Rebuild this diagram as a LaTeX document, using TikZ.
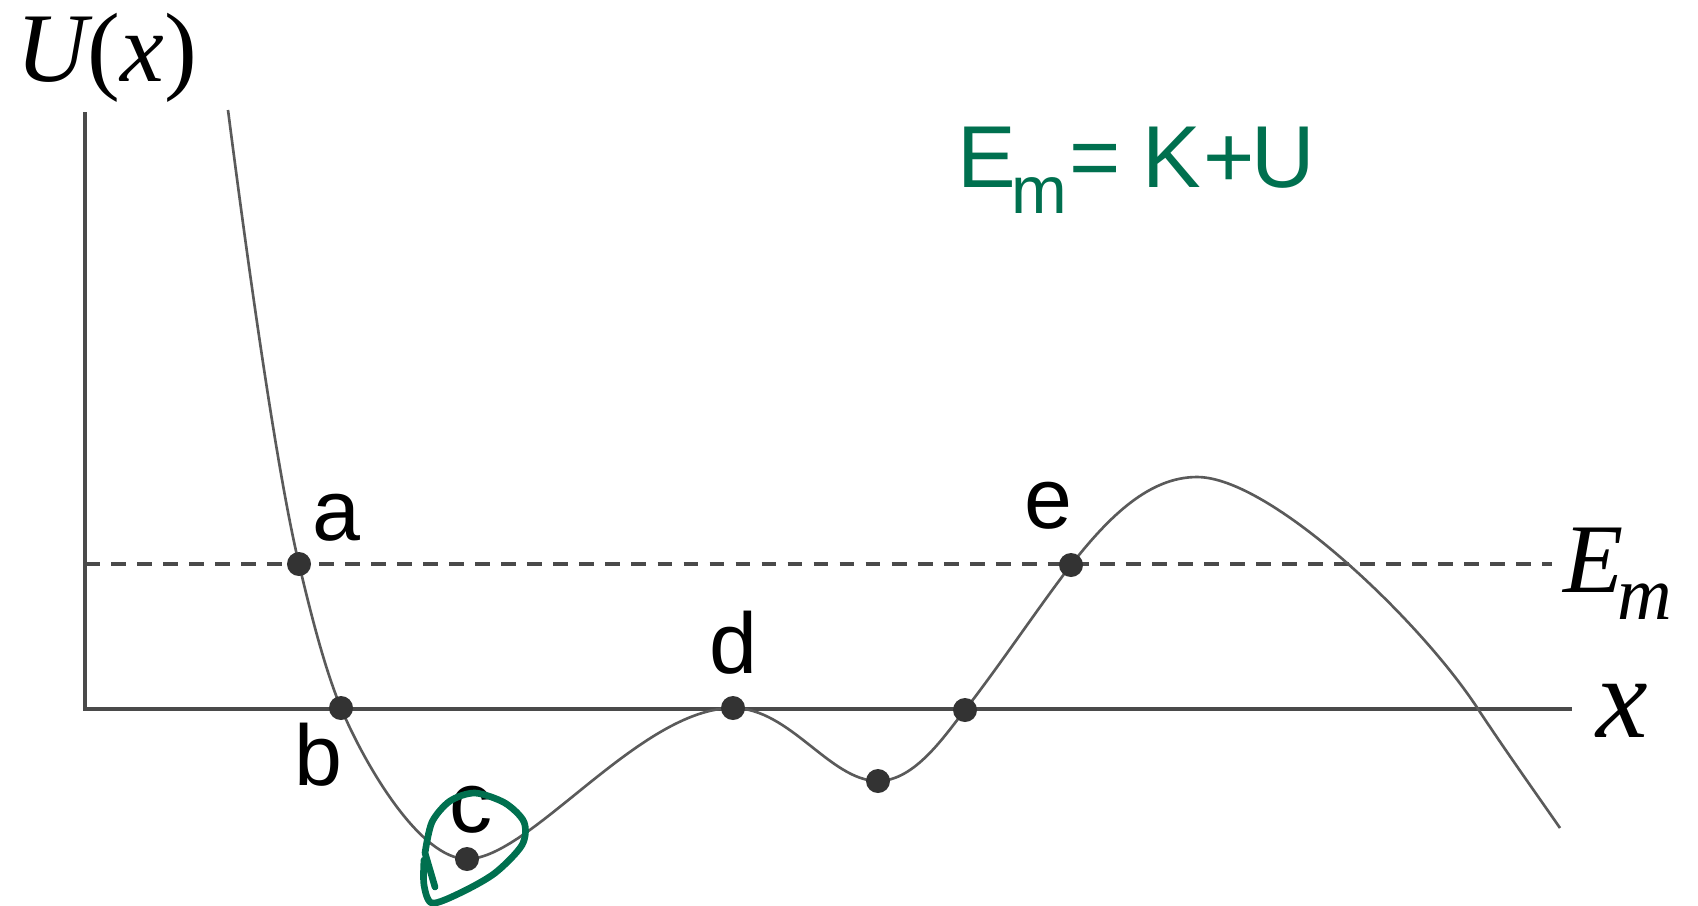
\documentclass[tikz,border=0pt]{standalone}
\usepackage{fontspec}
\setmainfont{Liberation Serif}
\setsansfont{Liberation Sans}
\usetikzlibrary{positioning}
\definecolor{axisgray}{HTML}{4A4A4A}
\definecolor{curvegray}{HTML}{5A5A5A}
\definecolor{dotgray}{HTML}{333333}
\definecolor{inkgreen}{HTML}{00704F}

\begin{document}
\begin{tikzpicture}[
  x=0.01cm, y=-0.01cm,
  axis/.style={draw=axisgray, line width=0.9pt},
  curve/.style={draw=curvegray, line width=0.75pt},
  level/.style={draw=axisgray, line width=1pt, dash pattern=on 4.2pt off 3.2pt},
  dot/.style={circle, fill=dotgray, inner sep=0pt, minimum size=0.24cm},
  lbl/.style={inner sep=0pt, anchor=base, font=\sffamily\fontsize{24.5}{24.5}\selectfont},
  axlbl/.style={inner sep=0pt, font=\fontsize{28}{28}\selectfont\itshape},
  ink/.style={draw=inkgreen, line width=1.9pt, line cap=round, line join=round}
]
\useasboundingbox (0,0) rectangle (1698,905);

\coordinate (o) at (85,709);
\coordinate (ytop) at (85,112);
\coordinate (xend) at (1572,709);
\coordinate (lvl0) at (85,564);
\coordinate (lvl1) at (1552,564);

\draw[axis] (ytop) -- (o) -- (xend);
\draw[level] (lvl0) -- (lvl1);

\coordinate (top) at (228,110);
\coordinate (ca) at (299,564);
\coordinate (cb) at (341,708);
\coordinate (cc) at (467,859);
\coordinate (cd) at (733,708);
\coordinate (cm) at (878,781);
\coordinate (cx) at (965,710);
\coordinate (ce) at (1071,565);
\coordinate (peak) at (1197,477);
\coordinate (cr) at (1478,709);
\coordinate (tail) at (1560,828);

\draw[curve] (top) .. controls (246,250) and (276,468) .. (ca)
  .. controls (310,610) and (324,667) .. (cb)
  .. controls (365,765) and (420,859) .. (cc)
  .. controls (530,859) and (640,708) .. (cd)
  .. controls (790,708) and (830,781) .. (cm)
  .. controls (915,781) and (945,735) .. (cx)
  .. controls (1000,665) and (1040,605) .. (ce)
  .. controls (1110,515) and (1150,477) .. (peak)
  .. controls (1270,477) and (1420,620) .. (cr)
  .. controls (1505,750) and (1535,792) .. (tail);

\node[dot] (pa) at (ca) {};
\node[dot] (pb) at (cb) {};
\node[dot] (pc) at (cc) {};
\node[dot] (pd) at (cd) {};
\node[dot] (pm) at (cm) {};
\node[dot] (px) at (cx) {};
\node[dot] (pe) at (ce) {};

\node[lbl] (la) at (336,540) {a};
\node[lbl] (lb) at (318,785) {b};
\node[lbl] (lc) at (471,832) {c};
\node[lbl] (ld) at (733,673) {d};
\node[lbl] (le) at (1048,528) {e};

\node[axlbl] (ulbl) at (107,58) {U\upshape(\itshape x\upshape)};
\node[axlbl, anchor=base west] (emlbl) at (1563,592)
  {E\kern-0.06em\raisebox{-0.28em}{\fontsize{21.5}{21.5}\selectfont m}};
\node[axlbl, anchor=base, font=\fontsize{33}{33}\selectfont\itshape] (xlbl) at (1622,737) {x};

\node[inner sep=0pt, anchor=base west, text=inkgreen,
  font=\sffamily\fontsize{25}{25}\selectfont] (energy) at (957,187)
  {E\kern-0.05em\raisebox{-0.3em}{\fontsize{19}{19}\selectfont m}\kern0.02em=\kern0.25em K\kern0.02em+\kern-0.04em U};

\draw[ink] (435,887) -- (425,853)
  plot[smooth] coordinates {(425,853) (432,822) (450,801) (475,793) (505,803)
    (524,822) (522,845) (495,873) (460,893) (432,903) (424,885) (424,860)};
\end{tikzpicture}
\end{document}
